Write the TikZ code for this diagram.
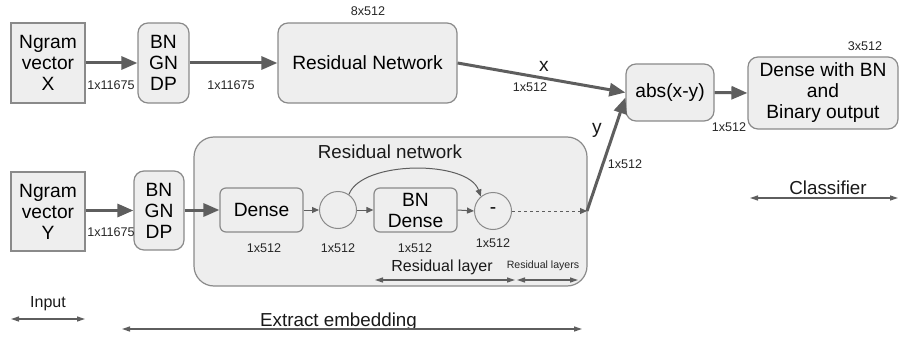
\documentclass[tikz,border=0pt]{standalone}
\usepackage{fontspec}
\setmainfont{Liberation Sans}
\usetikzlibrary{arrows.meta}
\definecolor{boxfill}{HTML}{EEEEEE}
\definecolor{boxline}{HTML}{8A8A8A}
\definecolor{arr}{HTML}{5E5E5E}
\tikzset{
  bigfont/.style={font=\fontsize{19.2}{21}\selectfont},
  lblfont/.style={font=\fontsize{12.6}{14}\selectfont},
  sqbox/.style={draw=boxline, fill=boxfill, line width=1.2pt, align=center, bigfont, inner sep=0pt},
  rbox/.style={sqbox, rounded corners=10pt},
  smbox/.style={sqbox, rounded corners=6pt},
  circ/.style={draw=boxline, fill=boxfill, line width=1pt, circle, minimum size=37pt, inner sep=0pt, bigfont},
  thick arrow/.style={draw=arr, line width=3pt, -{Triangle[length=16pt,width=13pt]}},
  thin arrow/.style={draw=arr, line width=1pt, -{Triangle[length=7pt,width=6pt]}},
  span arrow/.style={draw=arr, line width=1.3pt, {Triangle[length=8pt,width=5pt]}-{Triangle[length=8pt,width=5pt]}},
  lbl/.style={lblfont, inner sep=0pt, text=black!85},
  txt/.style={bigfont, inner sep=0pt, text=black!90},
}
\begin{document}
\begin{tikzpicture}[x=1pt,y=-1pt]
\useasboundingbox (0,0) rectangle (899,337);
% container
\node[draw=boxline, fill=boxfill, line width=1.2pt, rounded corners=20pt, minimum width=393pt, minimum height=149pt, inner sep=0pt] (cont) at (390.5,211.5) {};
\node[txt, font=\fontsize{18.8}{21}\selectfont] (conttitle) at (390,152) {Residual network};
% top row
\node[sqbox, minimum width=74pt, minimum height=80pt] (ngx) at (48,63) {Ngram\\vector\\X};
\node[rbox, minimum width=51pt, minimum height=80pt] (bnx) at (163.5,63) {BN\\GN\\DP};
\node[rbox, minimum width=179pt, minimum height=80pt] (resx) at (367.5,63) {Residual Network};
\node[rbox, minimum width=88pt, minimum height=57pt] (abs) at (670,92.5) {abs(x-y)};
\node[rbox, minimum width=150pt, minimum height=72pt] (dwb) at (823,93) {Dense with BN\\and\\Binary output};
% bottom row
\node[sqbox, minimum width=74pt, minimum height=79pt] (ngy) at (48,211.5) {Ngram\\vector\\Y};
\node[rbox, minimum width=50pt, minimum height=79pt] (bny) at (159,210.5) {BN\\GN\\DP};
\node[smbox, minimum width=83pt, minimum height=44pt] (dn) at (261.5,210) {Dense};
\node[circ] (c1) at (338,210) {};
\node[smbox, minimum width=83pt, minimum height=44pt] (bnd) at (415.5,210) {BN\\Dense};
\node[circ] (c2) at (493,211) {-};
\coordinate (yend) at (587,211);
% thick arrows
\draw[thick arrow] (ngx.east) -- (bnx.west);
\draw[thick arrow] (bnx.east) -- (resx.west);
\draw[thick arrow] (resx.east) -- (abs.west);
\draw[thick arrow] (abs.east) -- (dwb.west);
\draw[thick arrow] (ngy.east |- bny.west) -- (bny.west);
\draw[thick arrow] (bny.east |- dn.west) -- (dn.west);
\draw[thick arrow] (yend) -- ([yshift=-5pt]abs.west);
% thin arrows
\draw[thin arrow] (dn.east) -- (c1.west);
\draw[thin arrow] (c1.east) -- (bnd.west);
\draw[thin arrow] (bnd.east) -- (c2.west);
\draw[thin arrow] (c1.55) .. controls (362,160) and (468,160) .. (c2.130);
\draw[thin arrow, dashed] (c2.east) -- (yend);
% labels
\node[lbl] (l1) at (111,85) {1x11675};
\node[lbl] (l2) at (231,85) {1x11675};
\node[lbl] (l3) at (368,11) {8x512};
\node[txt] (lx) at (544,66) {x};
\node[lbl] (l4) at (530,87) {1x512};
\node[txt] (ly) at (597,130) {y};
\node[lbl] (l5) at (625,164) {1x512};
\node[lbl] (l6) at (729,127) {1x512};
\node[lbl] (l7) at (865,46) {3x512};
\node[lbl] (l8) at (111,232) {1x11675};
\node[lbl] (l9) at (264,248) {1x512};
\node[lbl] (l10) at (338,248) {1x512};
\node[lbl] (l11) at (415,248) {1x512};
\node[lbl] (l12) at (493,243) {1x512};
% span arrows
\node[txt, font=\fontsize{16}{18}\selectfont] (trl) at (442,267) {Residual layer};
\node[lbl, font=\fontsize{10.6}{12}\selectfont] (trls) at (543,266) {Residual layers};
\node[txt, font=\fontsize{16}{18}\selectfont] (tin) at (48,304) {Input};
\node[txt, font=\fontsize{18.8}{21}\selectfont] (tex) at (338.5,322) {Extract embedding};
\node[txt, font=\fontsize{18.8}{21}\selectfont] (tcl) at (828,188) {Classifier};
\coordinate (rlA) at (375,280); \coordinate (rlB) at (515,280);
\coordinate (rsA) at (517,280); \coordinate (rsB) at (578,280);
\coordinate (inA) at (11,319); \coordinate (inB) at (85,319);
\coordinate (exA) at (122,329); \coordinate (exB) at (582,329);
\coordinate (clA) at (750,198); \coordinate (clB) at (898,198);
\draw[span arrow] (rlA) -- (rlB);
\draw[span arrow] (rsA) -- (rsB);
\draw[span arrow] (inA) -- (inB);
\draw[span arrow] (exA) -- (exB);
\draw[span arrow] (clA) -- (clB);
\end{tikzpicture}
\end{document}
